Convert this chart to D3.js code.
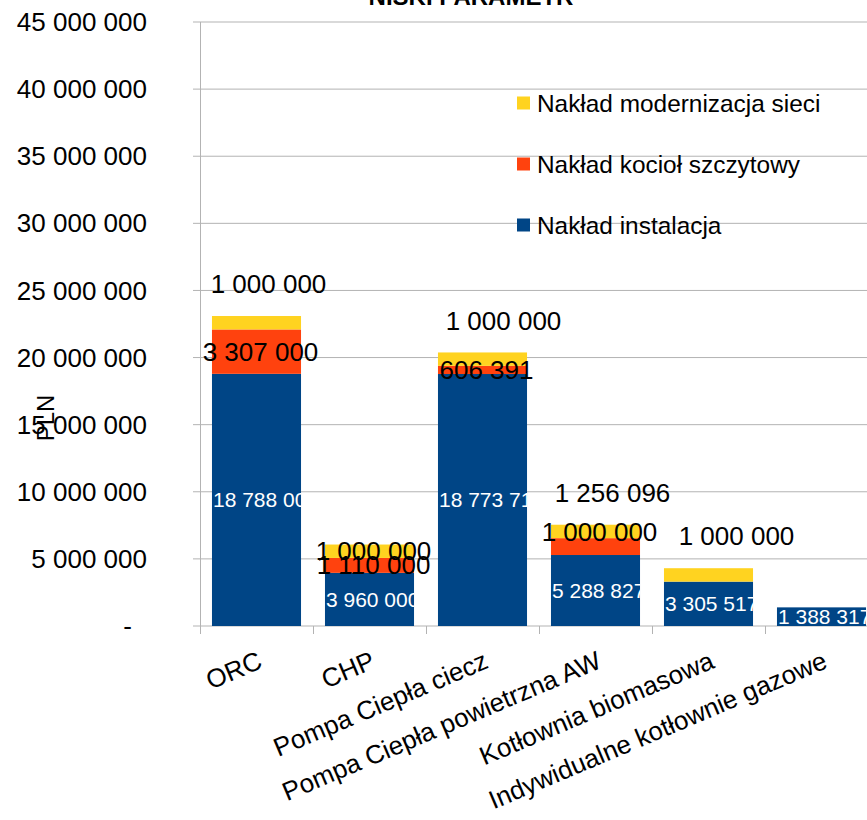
<!DOCTYPE html>
<html>
<head>
    <meta charset="utf-8">
    <script src="https://cdn.jsdelivr.net/npm/d3@7"></script>
    <style>
        body { margin: 0; background: #fff; }
        text { font-family: "Liberation Sans", Arial, sans-serif; }
    </style>
</head>
<body>
<div id="chart"></div>

<script>

    var categories = ['ORC', 'CHP', 'Pompa Ciepła ciecz', 'Pompa Ciepła powietrzna AW', 'Kotłownia biomasowa', 'Indywidualne kotłownie gazowe'];

    var seriesNames = ['Nakład instalacja', 'Nakład kocioł szczytowy', 'Nakład modernizacja sieci'];

    var instalacja = [18788000, 3960000, 18773710, 5288827, 3305517, 1388317];
    var kociol = [3307000, 1110000, 606391, 1256096, 0, 0];
    var modernizacja = [1000000, 1000000, 1000000, 1000000, 1000000, 0];

    var yTicks = [0, 5000000, 10000000, 15000000, 20000000, 25000000, 30000000, 35000000, 40000000, 45000000];

    var color = ['#004586', '#ff420e', '#ffd320'];

    // labels that sit above the stack instead of inside their segment: [category, series, dx]
    var liftedLabels = [[0, 2, 12], [2, 2, 21], [3, 1, 17], [4, 2, 28]];

    var width = 867;
    var height = 820;

    var svg = d3.select('#chart').append('svg')
        .attr('width', width)
        .attr('height', height);

    var x = d3.scaleBand()
        .domain(categories)
        .range([200, 878])
        .paddingInner(0.212)
        .paddingOuter(0.106);

    var y = d3.scaleLinear()
        .domain([0, 45000000])
        .range([626, 22]);

    var fmt = function(v) {
        if (v === 0) return '-';
        return d3.format(',')(v).replace(/,/g, ' ');
    };

    // title (mostly cut off at the top)
    svg.append('text')
        .attr('x', 471)
        .attr('y', 5)
        .attr('text-anchor', 'middle')
        .attr('font-size', 24)
        .attr('font-weight', 'bold')
        .text('NISKI PARAMETR');

    // gridlines
    svg.append('g').selectAll('line')
        .data(yTicks)
        .enter()
        .append('line')
        .attr('x1', 193)
        .attr('x2', width)
        .attr('y1', function(d) { return y(d); })
        .attr('y2', function(d) { return y(d); })
        .attr('stroke', '#b3b3b3')
        .attr('stroke-width', 1);

    // y axis line
    svg.append('line')
        .attr('x1', 200.5).attr('x2', 200.5)
        .attr('y1', y(45000000)).attr('y2', 634)
        .attr('stroke', '#b3b3b3');

    // x ticks at category boundaries
    var boundaries = categories.map(function(c) { return x(c) - x.step() * x.paddingOuter(); });
    svg.append('g').selectAll('line')
        .data(boundaries.slice(1))
        .enter()
        .append('line')
        .attr('x1', function(d) { return Math.round(d) + 0.5; })
        .attr('x2', function(d) { return Math.round(d) + 0.5; })
        .attr('y1', 626)
        .attr('y2', 634)
        .attr('stroke', '#b3b3b3');

    // y tick labels
    svg.append('g').selectAll('text')
        .data(yTicks)
        .enter()
        .append('text')
        .attr('x', function(d) { return d === 0 ? 132 : 147; })
        .attr('y', function(d) { return y(d); })
        .attr('dy', '0.35em')
        .attr('text-anchor', 'end')
        .attr('font-size', 26)
        .text(fmt);

    // y axis title
    svg.append('text')
        .attr('transform', 'translate(46,418) rotate(-90)')
        .attr('text-anchor', 'middle')
        .attr('dy', '0.35em')
        .attr('font-size', 24)
        .text('PLN');

    // stacked data
    var table = categories.map(function(c, i) {
        return { category: c, s0: instalacja[i], s1: kociol[i], s2: modernizacja[i] };
    });
    var stack = d3.stack().keys(['s0', 's1', 's2']);
    var layers = stack(table);

    var defs = svg.append('defs');
    categories.forEach(function(c, i) {
        defs.append('clipPath')
            .attr('id', 'clip' + i)
            .append('rect')
            .attr('x', x(c))
            .attr('y', 0)
            .attr('width', x.bandwidth())
            .attr('height', height);
    });

    var layerG = svg.append('g').selectAll('g')
        .data(layers)
        .enter()
        .append('g')
        .attr('fill', function(d, i) { return color[i]; });

    layerG.selectAll('rect')
        .data(function(d) { return d; })
        .enter()
        .append('rect')
        .attr('x', function(d) { return x(d.data.category); })
        .attr('y', function(d) { return y(d[1]); })
        .attr('width', x.bandwidth())
        .attr('height', function(d) { return y(d[0]) - y(d[1]); });

    // data labels
    layers.forEach(function(layer, si) {
        layer.forEach(function(d, ci) {
            var v = d[1] - d[0];
            if (v === 0) return;
            var cx = x(d.data.category) + x.bandwidth() / 2;
            var cy = (y(d[0]) + y(d[1])) / 2;
            var lifted = liftedLabels.filter(function(l) { return l[0] === ci && l[1] === si; })[0];
            var top = y(d.data.s0 + d.data.s1 + d.data.s2);
            var t = svg.append('text')
                .attr('text-anchor', 'middle')
                .attr('dy', '0.35em')
                .text(fmt(v));
            if (si === 0) {
                // white labels start at the bar's left edge and get clipped by the bar
                t.attr('x', x(d.data.category) + 1).attr('y', cy)
                    .attr('text-anchor', 'start')
                    .attr('fill', '#ffffff')
                    .attr('font-size', 21)
                    .attr('clip-path', 'url(#clip' + ci + ')');
            } else if (lifted) {
                t.attr('x', cx + lifted[2]).attr('y', top - 32)
                    .attr('fill', '#000000')
                    .attr('font-size', 26);
            } else {
                t.attr('x', cx + 4).attr('y', cy)
                    .attr('fill', '#000000')
                    .attr('font-size', 26);
            }
        });
    });

    // category labels
    svg.append('g').selectAll('text')
        .data(categories)
        .enter()
        .append('text')
        .attr('transform', function(d) {
            return 'translate(' + (x(d) + x.bandwidth() / 2) + ',650) rotate(-23)';
        })
        .attr('text-anchor', 'end')
        .attr('dy', '0.72em')
        .attr('font-size', 26)
        .text(function(d) { return d; });

    // legend
    var legendOrder = [2, 1, 0];
    var legend = svg.append('g')
        .attr('transform', 'translate(517,103)');

    var entries = legend.selectAll('g')
        .data(legendOrder)
        .enter()
        .append('g')
        .attr('transform', function(d, i) { return 'translate(0,' + (i * 61) + ')'; });

    entries.append('rect')
        .attr('x', 0)
        .attr('y', -6.5)
        .attr('width', 13)
        .attr('height', 13)
        .attr('fill', function(d) { return color[d]; });

    entries.append('text')
        .attr('x', 20)
        .attr('dy', '0.35em')
        .attr('font-size', 24.4)
        .text(function(d) { return seriesNames[d]; });

</script>
</body>
</html>
